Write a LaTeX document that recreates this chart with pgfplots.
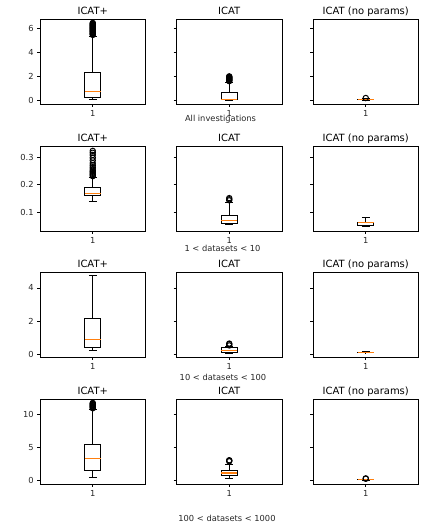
\documentclass[border=0pt]{standalone}
\usepackage{fontspec}
\setmainfont{DejaVu Sans}
\usepackage{pgfplots}
\pgfplotsset{compat=1.18}
\usepgfplotslibrary{statistics}
\definecolor{mplorange}{HTML}{FF7F0E}
\definecolor{mplgray}{HTML}{262626}
\pgfplotsset{
  bx/.style={
    scale only axis, width=105.5bp, height=85bp,
    anchor=south west,
    xmin=0.5, xmax=1.5, xtick={1}, xticklabels={1},
    tick align=outside, major tick length=2.9bp,
    xtick pos=bottom, ytick pos=left,
    tick style={black, line width=0.67bp},
    axis line style={black, line width=0.67bp},
    ticklabel style={font=\fontsize{8.33}{10}\selectfont, text=mplgray},
    title style={font=\fontsize{10}{12}\selectfont, at={(0.5,1)}, anchor=base, yshift=-1.8bp},
    /pgf/number format/assume math mode=true,
    boxplot/draw direction=y,
    boxplot/box extend=0.15,
    boxplot/whisker extend=0.075,
    boxplot/draw position=1,
    boxplot/every median/.style={mplorange, line width=1.1bp},
  },
  nolab/.style={yticklabels={}},
  r1/.style={ymin=-0.33, ymax=6.78, ytick={0,2,4,6}},
  r2/.style={ymin=0.030, ymax=0.343, ytick={0.1,0.2,0.3}},
  r3/.style={ymin=-0.18, ymax=4.96, ytick={0,2,4}},
  r4/.style={ymin=-0.6, ymax=12.3, ytick={0,5,10}},
  mybox/.style={black, line width=0.9bp, solid, mark=o, mark size=2.7bp, mark options={black, solid, line width=1bp}},
}
\begin{document}
\begin{tikzpicture}
\useasboundingbox (0,0) rectangle (421bp,523bp);
% ---------- Row 1 ----------
\begin{axis}[bx, r1, at={(40bp,419bp)}, title={ICAT+}]
\addplot[mybox, boxplot prepared={lower whisker=0.08, lower quartile=0.19, median=0.72, upper quartile=2.28, upper whisker=5.35}]
 coordinates {(1,5.45) (1,5.5) (1,5.55) (1,5.6) (1,5.65) (1,5.7) (1,5.75) (1,5.8) (1,5.85) (1,5.9) (1,5.95) (1,6.0) (1,6.05) (1,6.1) (1,6.15) (1,6.2) (1,6.25) (1,6.3) (1,6.35) (1,6.4) (1,6.45)};
\end{axis}
\begin{axis}[bx, r1, nolab, at={(176.5bp,419bp)}, title={ICAT}]
\addplot[mybox, boxplot prepared={lower whisker=0.0, lower quartile=0.02, median=0.08, upper quartile=0.64, upper whisker=1.5}]
 coordinates {(1,1.58) (1,1.62) (1,1.66) (1,1.7) (1,1.74) (1,1.78) (1,1.82) (1,1.86) (1,1.9) (1,1.94) (1,1.98)};
\end{axis}
\begin{axis}[bx, r1, nolab, at={(313bp,419bp)}, title={ICAT (no params)}]
\addplot[mybox, boxplot prepared={lower whisker=0.0, lower quartile=0.02, median=0.05, upper quartile=0.08, upper whisker=0.12}]
 coordinates {(1,0.17)};
\end{axis}
% ---------- Row 2 ----------
\begin{axis}[bx, r2, at={(40bp,292bp)}, title={ICAT+}]
\addplot[mybox, boxplot prepared={lower whisker=0.14, lower quartile=0.16, median=0.168, upper quartile=0.19, upper whisker=0.229}]
 coordinates {(1,0.232) (1,0.236) (1,0.24) (1,0.244) (1,0.248) (1,0.252) (1,0.258) (1,0.265) (1,0.272) (1,0.28) (1,0.29) (1,0.30) (1,0.31) (1,0.318) (1,0.325)};
\end{axis}
\begin{axis}[bx, r2, nolab, at={(176.5bp,292bp)}, title={ICAT}]
\addplot[mybox, boxplot prepared={lower whisker=0.055, lower quartile=0.057, median=0.067, upper quartile=0.089, upper whisker=0.135}]
 coordinates {(1,0.143) (1,0.147) (1,0.151)};
\end{axis}
\begin{axis}[bx, r2, nolab, at={(313bp,292bp)}, title={ICAT (no params)}]
\addplot[mybox, boxplot prepared={lower whisker=0.047, lower quartile=0.049, median=0.06, upper quartile=0.063, upper whisker=0.079}]
 coordinates {};
\end{axis}
% ---------- Row 3 ----------
\begin{axis}[bx, r3, at={(40bp,166bp)}, title={ICAT+}]
\addplot[mybox, boxplot prepared={lower whisker=0.2, lower quartile=0.37, median=0.86, upper quartile=2.16, upper whisker=4.75}]
 coordinates {};
\end{axis}
\begin{axis}[bx, r3, nolab, at={(176.5bp,166bp)}, title={ICAT}]
\addplot[mybox, boxplot prepared={lower whisker=0.05, lower quartile=0.12, median=0.22, upper quartile=0.37, upper whisker=0.45}]
 coordinates {(1,0.52) (1,0.6) (1,0.63)};
\end{axis}
\begin{axis}[bx, r3, nolab, at={(313bp,166bp)}, title={ICAT (no params)}]
\addplot[mybox, boxplot prepared={lower whisker=0.07, lower quartile=0.085, median=0.1, upper quartile=0.115, upper whisker=0.13}]
 coordinates {};
\end{axis}
% ---------- Row 4 ----------
\begin{axis}[bx, r4, at={(40bp,39bp)}, title={ICAT+}]
\addplot[mybox, boxplot prepared={lower whisker=0.4, lower quartile=1.42, median=3.3, upper quartile=5.33, upper whisker=10.7}]
 coordinates {(1,10.9) (1,11.0) (1,11.1) (1,11.2) (1,11.3) (1,11.4) (1,11.5) (1,11.6) (1,11.7)};
\end{axis}
\begin{axis}[bx, r4, nolab, at={(176.5bp,39bp)}, title={ICAT}]
\addplot[mybox, boxplot prepared={lower whisker=0.3, lower quartile=0.66, median=1.07, upper quartile=1.52, upper whisker=2.3}]
 coordinates {(1,2.85) (1,2.95) (1,3.0)};
\end{axis}
\begin{axis}[bx, r4, nolab, at={(313bp,39bp)}, title={ICAT (no params)}]
\addplot[mybox, boxplot prepared={lower whisker=0.0, lower quartile=0.02, median=0.06, upper quartile=0.12, upper whisker=0.15}]
 coordinates {(1,0.2) (1,0.25)};
\end{axis}
% ---------- row labels ----------
\node[font=\fontsize{8.33}{10}\selectfont, text=mplgray] at (220.5bp,404bp) {All investigations};
\node[font=\fontsize{8.33}{10}\selectfont, text=mplgray] at (222.5bp,275bp) {1 < datasets < 10};
\node[font=\fontsize{8.33}{10}\selectfont, text=mplgray] at (223bp,146bp) {10 < datasets < 100};
\node[font=\fontsize{8.33}{10}\selectfont, text=mplgray] at (227bp,5bp) {100 < datasets < 1000};
\end{tikzpicture}
\end{document}
